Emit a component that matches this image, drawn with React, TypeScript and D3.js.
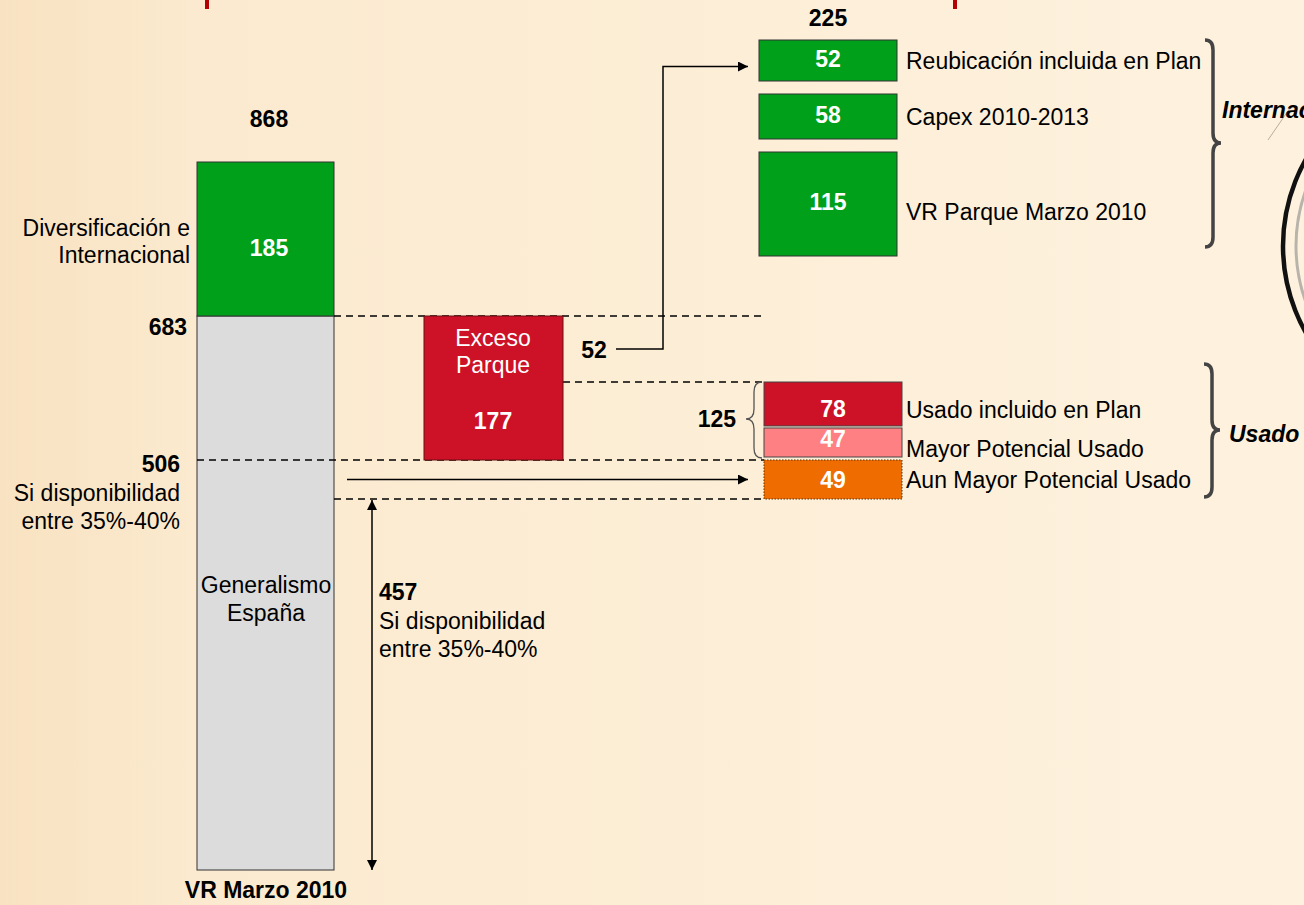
import React from 'react';
import * as d3 from 'd3';

// ---- data ----
const mainLabels = [['Generalismo', 'España'], ['Diversificación e', 'Internacional']];
const mainValues = [683, 185];
const excesoLabel = ['Exceso', 'Parque'];
const excesoValue = 177;
const reubicacionValue = 52;
const intLabels = ['Reubicación incluida en Plan', 'Capex 2010-2013', 'VR Parque Marzo 2010'];
const intValues = [52, 58, 115];
const usadoLabels = ['Usado incluido en Plan', 'Mayor Potencial Usado', 'Aun Mayor Potencial Usado'];
const usadoValues = [78, 47, 49];
const dispoLabel = ['Si disponibilidad', 'entre 35%-40%'];
const groupLabels = ['Internacional', 'Usado'];
const axisLabel = 'VR Marzo 2010';

const W = 1304;
const H = 905;
const FONT = "'Liberation Sans', Arial, sans-serif";
const FS = 23;

const mainColors = ['#DCDCDC', '#00A01B'];
const usadoColors = ['#CD1127', '#FF8082', '#EE6C00'];
const green = '#00A01B';
const red = '#CD1127';

// curly brace, tip pointing in direction of sign(w)
const brace = (x: number, y0: number, y1: number, w: number, tipY?: number) => {
  const ym = tipY ?? (y0 + y1) / 2;
  const h = w / 2;
  const r = Math.min(10, (y1 - y0) / 6);
  return `M${x},${y0} Q${x + h},${y0} ${x + h},${y0 + r} L${x + h},${ym - r} Q${x + h},${ym} ${x + w},${ym} ` +
    `Q${x + h},${ym} ${x + h},${ym + r} L${x + h},${y1 - r} Q${x + h},${y1} ${x},${y1}`;
};

const App = () => {
  const total = d3.sum(mainValues);                       // 868
  const generalismo = mainValues[0];                      // 683
  const excesoBottom = generalismo - excesoValue;         // 506
  const reubBottom = generalismo - reubicacionValue;      // 631
  const dispoLevel = excesoBottom - usadoValues[2];       // 457

  // schematic (not to scale) value axis
  const y = d3.scaleLinear()
    .domain([0, dispoLevel, excesoBottom, reubBottom, generalismo, total])
    .range([870, 499, 460, 382, 316, 162]);

  const x = d3.scaleOrdinal<string, number>()
    .domain(['main', 'exceso', 'int', 'usado'])
    .range([197, 424, 759, 764]);
  const bw = 138;

  const intTotal = d3.sum(intValues);
  const intCum = Array.from(d3.cumsum([0, ...intValues]));
  const yInt = d3.scaleLinear().domain(intCum).range([40, 81, 126, 230]);
  const intGap = 13;
  const intBoxes = intValues.map((v, i) => ({
    v, label: intLabels[i],
    y0: yInt(intCum[i]) + i * intGap,
    y1: yInt(intCum[i + 1]) + i * intGap,
  }));

  const usadoTop = [reubBottom, reubBottom - usadoValues[0], excesoBottom];
  const inset0 = [0, -2.7, 0];
  const inset1 = [-4.7, -3, 0];
  const valOff = [13, 5, 8];
  const labOff = [14, 15, 8];
  const usadoBoxes = usadoValues.map((v, i) => ({
    v, label: usadoLabels[i], color: usadoColors[i],
    y0: y(usadoTop[i]) + inset0[i],
    y1: y(usadoTop[i] - v) + inset1[i],
  }));

  const mainBoxes = [
    { y0: y(generalismo), y1: y(0), color: mainColors[0] },
    { y0: y(total), y1: y(generalismo), color: mainColors[1] },
  ];
  const mx = x('main');
  const ex = x('exceso');
  const ix = x('int');
  const ux = x('usado');

  const dash = { stroke: '#000', strokeWidth: 1.4, strokeDasharray: '7,5' };
  const txt = { fontFamily: FONT, fontSize: FS };
  const connY = y(generalismo - reubicacionValue / 2);
  const arrowY = y((excesoBottom + dispoLevel) / 2);
  const dispoX = 372;

  return (
    <svg width={W} height={H} style={{ position: 'absolute', left: 0, top: 0, display: 'block' }}>
      <defs>
        <linearGradient id="bg" x1="0" x2="1" y1="0" y2="0">
          <stop offset="0" stopColor="#F8E2C1" />
          <stop offset="0.15" stopColor="#FBEACF" />
          <stop offset="1" stopColor="#FEF2DF" />
        </linearGradient>
        <marker id="ah" viewBox="0 0 10 10" refX="10" refY="5" markerWidth="10" markerHeight="10"
          markerUnits="userSpaceOnUse" orient="auto-start-reverse">
          <path d="M0,0 L10,5 L0,10 Z" fill="#000" />
        </marker>
      </defs>
      <rect width={W} height={H} fill="url(#bg)" />

      {/* clipped title marks */}
      <rect x={205} y={0} width={4} height={9} fill="#B30000" />
      <rect x={953} y={0} width={4} height={9} fill="#B30000" />

      {/* logo arcs at right edge */}
      <circle cx={1459} cy={246} r={176} fill="none" stroke="#111" strokeWidth={4.5} />
      <circle cx={1462} cy={246} r={166} fill="none" stroke="#B8B4AC" strokeWidth={3} />
      <path d="M1268,140 L1290,108" stroke="#8a8070" strokeWidth={1} opacity={0.6} />

      {/* main stacked bar */}
      {mainBoxes.map((b, i) => (
        <rect key={i} x={mx} y={b.y0} width={bw - 1} height={b.y1 - b.y0} fill={b.color} stroke="#333" strokeWidth={1} />
      ))}

      {/* dashed guide lines */}
      <line x1={mx + bw - 1} x2={765} y1={y(generalismo)} y2={y(generalismo)} style={dash} />
      <line x1={ex + bw + 1} x2={764} y1={y(reubBottom)} y2={y(reubBottom)} style={dash} />
      <line x1={mx} x2={764} y1={y(excesoBottom)} y2={y(excesoBottom)} style={dash} />
      <line x1={mx + bw - 1} x2={764} y1={y(dispoLevel)} y2={y(dispoLevel)} style={dash} />

      {/* exceso parque */}
      <rect x={ex} y={y(generalismo)} width={bw + 1} height={y(excesoBottom) - y(generalismo)} fill={red} stroke="#6a1010" strokeWidth={1} />
      <text x={ex + bw / 2} y={346} textAnchor="middle" fill="#fff" {...txt}>{excesoLabel[0]}</text>
      <text x={ex + bw / 2} y={373} textAnchor="middle" fill="#fff" {...txt}>{excesoLabel[1]}</text>
      <text x={ex + bw / 2} y={y((generalismo + excesoBottom) / 2) + 24} textAnchor="middle" fill="#fff" fontWeight="bold" {...txt}>{excesoValue}</text>

      {/* 52 connector */}
      <text x={594} y={connY + 9} textAnchor="middle" fontWeight="bold" {...txt}>{reubicacionValue}</text>
      <path d={`M616,${connY} H663 V${(intBoxes[0].y0 + intBoxes[0].y1) / 2 + 6} H748`} fill="none" stroke="#000" strokeWidth={1.5} markerEnd="url(#ah)" />

      {/* internacional boxes */}
      <text x={ix + bw / 2} y={26} textAnchor="middle" fontWeight="bold" {...txt}>{intTotal}</text>
      {intBoxes.map((b, i) => (
        <g key={i}>
          <rect x={ix} y={b.y0} width={bw} height={b.y1 - b.y0} fill={green} stroke="#333" strokeWidth={1} />
          <text x={ix + bw / 2} y={(b.y0 + b.y1) / 2 + 6} textAnchor="middle" fill="#fff" fontWeight="bold" {...txt}>{b.v}</text>
          <text x={906} y={(b.y0 + b.y1) / 2 + 8 + (i === 2 ? 8 : 0)} {...txt}>{b.label}</text>
        </g>
      ))}

      {/* usado boxes */}
      {usadoBoxes.map((b, i) => (
        <g key={i}>
          <rect x={ux} y={b.y0} width={bw} height={b.y1 - b.y0} fill={b.color}
            stroke={i === 2 ? '#5a3000' : '#444'} strokeWidth={1} strokeDasharray={i === 2 ? '1.5,1.5' : undefined} />
          <text x={ux + bw / 2} y={(b.y0 + b.y1) / 2 + valOff[i]} textAnchor="middle" fill="#fff" fontWeight="bold" {...txt}>{b.v}</text>
          <text x={906} y={(b.y0 + b.y1) / 2 + labOff[i]} {...txt}>{b.label}</text>
        </g>
      ))}

      {/* 125 brace */}
      <path d={brace(762, y(reubBottom), y(excesoBottom) - 2, -16, 419)} fill="none" stroke="#555" strokeWidth={1.3} />
      <text x={736} y={427} textAnchor="end" fontWeight="bold" {...txt}>{usadoValues[0] + usadoValues[1]}</text>

      {/* group braces */}
      <path d={brace(1205, 40, 247, 16, 143)} fill="none" stroke="#444" strokeWidth={3.5} />
      <text x={1222} y={118} fontWeight="bold" fontStyle="italic" {...txt}>{groupLabels[0]}</text>
      <path d={brace(1204, 364, 497, 16, 430)} fill="none" stroke="#444" strokeWidth={3.5} />
      <text x={1229} y={442} fontWeight="bold" fontStyle="italic" {...txt}>{groupLabels[1]}</text>

      {/* arrows */}
      <line x1={347} x2={748} y1={arrowY} y2={arrowY} stroke="#000" strokeWidth={1.5} markerEnd="url(#ah)" />
      <line x1={dispoX} x2={dispoX} y1={y(dispoLevel) + 1} y2={y(0)} stroke="#000" strokeWidth={1.5}
        markerStart="url(#ah)" markerEnd="url(#ah)" />

      {/* main bar labels */}
      <text x={mx + bw / 2 + 3} y={127} textAnchor="middle" fontWeight="bold" {...txt}>{total}</text>
      <text x={190} y={236} textAnchor="end" {...txt}>{mainLabels[1][0]}</text>
      <text x={190} y={263} textAnchor="end" {...txt}>{mainLabels[1][1]}</text>
      <text x={mx + bw / 2 + 3} y={(mainBoxes[1].y0 + mainBoxes[1].y1) / 2 + 17} textAnchor="middle" fill="#fff" fontWeight="bold" {...txt}>{mainValues[1]}</text>
      <text x={187} y={y(generalismo) + 19} textAnchor="end" fontWeight="bold" {...txt}>{generalismo}</text>
      <text x={180} y={y(excesoBottom) + 12} textAnchor="end" fontWeight="bold" {...txt}>{excesoBottom}</text>
      <text x={180} y={501} textAnchor="end" {...txt}>{dispoLabel[0]}</text>
      <text x={180} y={529} textAnchor="end" {...txt}>{dispoLabel[1]}</text>
      <text x={mx + bw / 2} y={593} textAnchor="middle" {...txt}>{mainLabels[0][0]}</text>
      <text x={mx + bw / 2} y={621} textAnchor="middle" {...txt}>{mainLabels[0][1]}</text>
      <text x={379} y={600} fontWeight="bold" {...txt}>{dispoLevel}</text>
      <text x={379} y={629} {...txt}>{dispoLabel[0]}</text>
      <text x={379} y={657} {...txt}>{dispoLabel[1]}</text>
      <text x={mx + bw / 2} y={898} textAnchor="middle" fontWeight="bold" {...txt}>{axisLabel}</text>
    </svg>
  );
};

export default App;
